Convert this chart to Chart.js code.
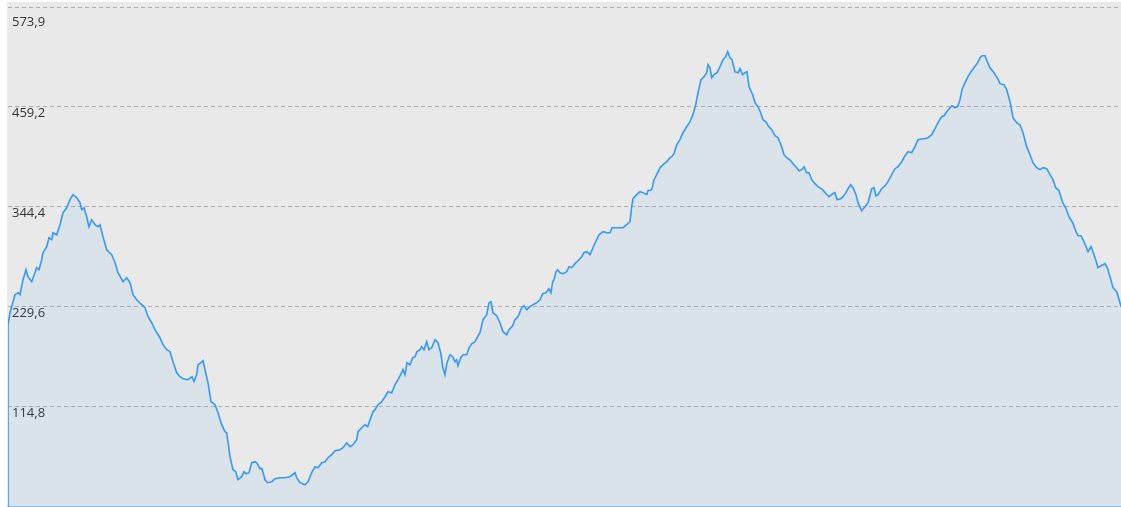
<!DOCTYPE html>
<html>
<head>
<meta charset="utf-8">
<script src="https://cdn.jsdelivr.net/npm/chart.js@4/dist/chart.umd.min.js"></script>
<style>
  html, body { margin: 0; padding: 0; background: #fff; }
  #wrap { width: 1121px; height: 507px; position: relative; }
</style>
</head>
<body>
<div id="wrap"><canvas id="profileChart"></canvas></div>
<script>
// distance along the profile (arbitrary units)
var dist = [
    0, 0, 2, 7, 10.3, 12, 15, 18, 20, 23.7, 27, 28.7, 31, 33.7, 35, 38.7, 41, 43.7, 45, 48.7, 52, 55, 58.7, 62, 65, 68.7, 72, 73.7, 76, 78.7,
    81, 83.7, 87, 90, 92, 95, 98.7, 103.7, 107, 110, 115, 118.7, 122, 125, 128.7, 133.7, 137, 140, 143.7, 147, 152, 155, 158.7, 162, 165, 168.7, 172, 175,
    180, 184, 186, 188.7, 190, 193, 195, 197, 200, 203, 207, 210, 213.7, 217, 218.7, 222, 225, 227.7, 230, 233.7, 236, 238, 241, 243.7, 247, 248.7, 252, 254, 257, 259.7, 263.7, 267,
    272, 277, 282, 287, 288.7, 292, 297, 300, 303.7, 307, 310, 313.7, 317, 320, 323.7, 327, 332, 335, 338.7, 342, 345, 348.7, 350, 353.7, 357, 359.7, 362,
    365, 367, 370, 373.7, 377, 380, 383.7, 387, 390, 393.7, 395, 397, 399, 402, 404.7, 407, 409, 412, 413.7, 416, 418.7, 421, 423.7, 427, 430, 432.7, 434.7, 437, 439, 442,
    444.7, 447, 448.7, 450, 452.7, 455, 458.7, 461, 463.7, 467, 469, 472, 475, 478.7, 481, 483, 485, 488.7, 492, 495, 498.7, 501, 504.7, 507, 510, 513.7, 516, 518.7, 522, 525,
    528.7, 532, 534.7, 538, 541, 543, 544.7, 546, 548,
    549.7, 552, 555, 558.7, 561, 563.7, 567, 570, 573.7, 576, 578.7, 582, 585, 587.7, 591, 595, 598.7, 602, 604, 607, 612, 615, 618.7, 622, 623.7, 625, 628.7, 632, 635, 638.7,
    640, 643.7, 646, 648.7, 652, 655, 658.7, 662, 663.7, 666, 668.7, 672, 675, 678.7, 682, 685, 687.7, 690, 693, 696, 698.7, 700, 702, 703.7, 706, 709, 712, 715, 717.7, 719.7,
    722, 724, 727, 730, 732,
    734.7, 737, 739, 741, 744.7, 747, 750, 752.7, 755, 758, 760, 763.7, 767, 770, 773.7, 776, 778.7, 782.7, 785, 788.7, 791, 793.7, 796, 798.7, 801, 803.7, 807, 810, 814.7, 818,
    821, 824.7, 827, 829, 832.7, 835, 838, 840, 842.7, 845, 848, 850, 853.7, 857, 860, 863.7, 866, 868, 870, 873.7, 877, 880, 883.7, 887, 890, 893.7, 897, 900, 903.7, 907,
    910, 914.7,
    917, 920, 923.7, 927, 930, 933.7, 936, 938.7, 942, 944, 947, 949.7, 952, 954, 957, 960, 963, 966, 969.7, 972, 974, 977, 979.7, 982, 986, 989.7, 992, 996, 998.7, 1002,
    1005, 1008.7, 1012, 1015, 1018.7, 1022, 1025, 1028.7, 1032, 1035, 1038.7, 1042, 1045, 1047.7, 1051, 1054.7, 1057.7, 1061, 1064.7, 1067.7, 1070, 1073, 1075, 1077.7, 1080,
    1083, 1085, 1087.7, 1090, 1093, 1097, 1099.7, 1102, 1105, 1108.7, 1112, 1113
];

// elevation values
var elev = [
    0, 209.2, 223.0, 243.7, 246.0, 243.7, 260.9, 272.4, 264.3, 258.6, 268.9, 274.7, 272.4, 283.8, 291.9, 298.8, 309.1, 306.8, 314.8, 312.5, 324.0, 337.8, 343.5, 352.7, 358.5, 355.0, 349.3, 341.2, 343.5, 333.2,
    321.7, 329.8, 324.0, 321.7, 324.0, 310.3, 295.3, 289.6, 280.4, 268.9, 258.6, 263.2, 257.5, 243.7, 237.9, 232.2, 228.8, 218.4, 211.5, 203.5, 194.3, 186.3, 180.5, 178.3, 166.8, 154.1, 149.6, 147.3,
    146.1, 149.6, 144.2, 151.9, 163.3, 165.6, 167.9, 157.6, 142.7, 120.9, 117.4, 108.2, 94.5, 86.4, 85.3, 57.7, 42.8, 40.5, 31.3, 34.8, 40.5, 38.2, 39.4, 50.8, 52.0, 50.8, 44.0, 44.0, 31.3, 27.9, 29.0, 32.5,
    33.6, 33.6, 34.8, 39.4, 33.6, 27.9, 25.6, 29.0, 39.4, 46.3, 45.1, 50.8, 52.0, 56.6, 60.0, 64.6, 65.8, 68.1, 73.8, 69.2, 71.5, 77.2, 86.4, 91.0, 94.5, 92.2, 100.2,
    109.4, 111.7, 117.4, 120.9, 126.6, 132.3, 131.2, 140.4, 146.1, 154.1, 157.6, 151.9, 165.6, 163.3, 171.4, 172.5, 178.3, 180.5, 184.0, 180.5, 189.7, 180.5, 182.8, 192.0, 188.6, 177.1, 161.0, 151.9, 165.6, 174.8,
    172.5, 166.8, 169.1, 162.2, 171.4, 174.8, 174.8, 182.8, 187.4, 189.7, 194.3, 200.1, 215.0, 220.7, 234.5, 235.6, 223.0, 219.6, 211.5, 201.2, 197.8, 203.5, 208.1, 215.0, 218.4, 228.8, 231.1, 226.5, 229.9, 232.2,
    234.5, 237.9, 244.8, 246.0, 250.6, 246.0, 258.6, 260.9, 270.1,
    272.4, 268.9, 267.8, 270.1, 275.8, 274.7, 279.3, 282.7, 287.3, 291.9, 293.0, 289.6, 297.6, 304.5, 312.5, 316.0, 314.8, 314.8, 320.6, 320.6, 320.6, 320.6, 324.0, 327.5, 344.7, 353.9, 358.5, 361.9, 360.8, 358.5,
    363.0, 364.2, 375.7, 381.4, 389.5, 392.9, 396.3, 400.9, 402.1, 405.5, 415.8, 421.6, 429.6, 436.5, 442.2, 450.3, 461.8, 475.5, 490.5, 493.9, 498.5, 507.7, 504.2, 492.7, 496.2, 498.5, 505.4, 513.4, 516.9, 522.6,
    515.7, 513.4, 499.6, 498.5, 503.1,
    496.2, 498.5, 499.6, 482.4, 473.2, 464.1, 459.5, 452.6, 444.5, 442.2, 437.7, 433.1, 426.2, 423.9, 413.6, 404.4, 400.9, 397.5, 394.0, 389.5, 386.0, 387.2, 390.6, 383.7, 383.7, 375.7, 371.1, 367.6, 364.2, 359.6,
    356.2, 359.6, 360.8, 352.7, 353.9, 356.2, 360.8, 365.3, 369.9, 366.5, 358.5, 349.3, 340.1, 344.7, 349.3, 365.3, 366.5, 357.3, 358.5, 365.3, 368.8, 373.4, 381.4, 388.3, 390.6, 396.3, 403.2, 407.8, 406.7, 413.6,
    421.6, 422.7,
    422.7, 423.9, 427.3, 434.2, 441.1, 448.0, 449.1, 453.7, 458.3, 460.6, 458.3, 459.5, 467.5, 479.0, 487.0, 493.9, 499.6, 504.2, 510.0, 515.7, 518.0, 518.0, 510.0, 504.2, 498.5, 491.6, 485.9, 484.7, 479.0, 465.2,
    446.8, 441.1, 438.8, 429.6, 413.6, 404.4, 395.2, 389.5, 387.2, 389.5, 388.3, 381.4, 375.7, 366.5, 363.0, 349.3, 343.5, 333.2, 326.3, 317.1, 311.4, 311.4, 306.8, 299.9, 293.0,
    298.8, 293.0, 283.8, 274.7, 277.0, 279.3, 273.5, 264.3, 251.7, 247.1, 234.5, 229.9
];

// y axis tick values
var yTicks = [114.8, 229.6, 344.4, 459.2, 573.9];
var yMax = 573.9;
var xMax = 1113;

if (dist.length !== elev.length) console.error("length mismatch", dist.length, elev.length);

var points = dist.map(function (d, i) { return { x: d, y: elev[i] }; });

// grey plot background
var plotBg = {
    id: "plotBg",
    beforeDraw: function (chart) {
        var a = chart.chartArea;
        var c = chart.ctx;
        c.save();
        c.fillStyle = "#e9e9e9";
        c.fillRect(a.left - 1, a.top - 5, a.right - a.left + 1, a.bottom - a.top + 5);
        c.restore();
    }
};

var fmt = function (v) { return v.toFixed(1).replace(".", ","); };

new Chart(document.getElementById("profileChart").getContext("2d"), {
    type: "line",
    data: {
        datasets: [{
            data: points,
            borderColor: "#3399ff",
            borderWidth: 1.6,
            backgroundColor: "rgba(51, 153, 255, 0.08)",
            fill: "origin",
            pointRadius: 0,
            tension: 0
        }]
    },
    options: {
        responsive: true,
        maintainAspectRatio: false,
        animation: false,
        layout: { padding: { left: 8, top: 7, right: 0, bottom: 0 } },
        plugins: { legend: { display: false }, tooltip: { enabled: false } },
        scales: {
            x: {
                type: "linear",
                min: 0,
                max: xMax,
                ticks: { display: false },
                grid: { display: false, drawTicks: false },
                border: { display: true, color: "#8cc4f5", width: 2 }
            },
            y: {
                min: 0,
                max: yMax,
                afterBuildTicks: function (scale) {
                    scale.ticks = yTicks.map(function (v) { return { value: v }; });
                },
                afterFit: function (scale) {
                    scale.width = 0;
                    scale.paddingTop = 0;
                    scale.paddingBottom = 0;
                },
                ticks: {
                    mirror: true,
                    align: "start",
                    padding: 4,
                    color: "#333",
                    font: function (c) {
                        var top = c.tick && c.tick.value >= yMax;
                        return { family: "'Open Sans'", size: 13, lineHeight: top ? 1.4 : 1.2 };
                    },
                    callback: function (v) {
                        return v >= yMax ? ["", fmt(v)] : fmt(v);
                    }
                },
                grid: { color: "rgba(0, 0, 0, 0.25)", drawTicks: false },
                border: { display: false, dash: [4, 3] }
            }
        }
    },
    plugins: [plotBg]
});
</script>
</body>
</html>
